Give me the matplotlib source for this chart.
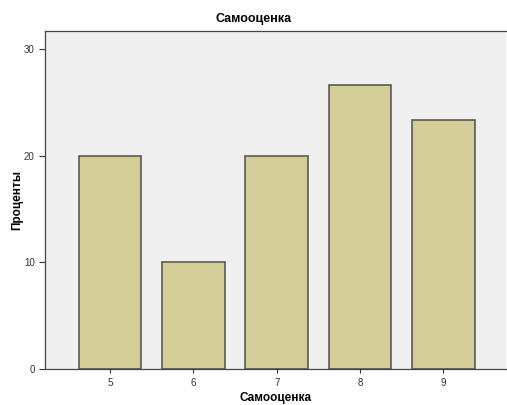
import matplotlib
matplotlib.use('Agg')
import matplotlib.pyplot as plt

categories = [5, 6, 7, 8, 9]
percents = [20.0, 10.0, 20.0, 26.67, 23.33]
yticks = [0, 10, 20, 30]

plt.rcParams['font.family'] = ['Liberation Sans', 'DejaVu Sans']

fig = plt.figure(figsize=(5.07, 4.05), dpi=100)
ax = fig.add_axes([0.0888, 0.0889, 0.9092, 0.8346])
ax.set_facecolor('#f0f0f0')

ax.bar(categories, percents, width=0.75, color='#d3ce97', edgecolor='#5a5a5a', linewidth=1.2)

ax.set_xlim(4.22, 9.75)
ax.set_ylim(0, 31.7)
ax.set_xticks(categories)
ax.set_yticks(yticks)
ax.tick_params(axis='both', labelsize=7, colors='#333333', length=4, width=0.8)
ax.tick_params(axis='x', length=3)

for side in ['left', 'bottom', 'top']:
    ax.spines[side].set_color('#444444')
    ax.spines[side].set_linewidth(0.9)
ax.spines['right'].set_visible(False)

# подписи осей - фиксированные позиции
ax.set_xlabel('Самооценка', fontsize=8.5, fontweight='bold', va='center')
ax.xaxis.set_label_coords(0.5, -0.087)
ax.set_ylabel('Проценты', fontsize=8.5, fontweight='bold', va='center')
ax.yaxis.set_label_coords(-0.061, 0.5)
fig.text(0.5, 0.952, 'Самооценка', ha='center', va='center', fontsize=9, fontweight='bold')

plt.savefig('out.png', dpi=100)
